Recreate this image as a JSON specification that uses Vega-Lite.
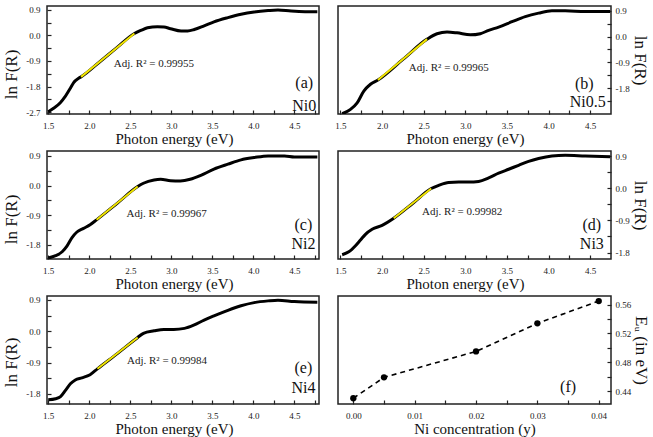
{
  "$schema": "https://vega.github.io/schema/vega-lite/v6.json",
  "background": "white",
  "padding": {"left": 2, "top": 5, "right": 3, "bottom": 3},
  "bounds": "flush",
  "columns": 2,
  "spacing": {"row": 37, "column": 19},
  "datasets": {
    "curves": [
      {"panel": "a", "energy": 1.50, "lnF": -2.69}, {"panel": "a", "energy": 1.565, "lnF": -2.57}, {"panel": "a", "energy": 1.647, "lnF": -2.37}, {"panel": "a", "energy": 1.71, "lnF": -2.14}, {"panel": "a", "energy": 1.77, "lnF": -1.86}, {"panel": "a", "energy": 1.81, "lnF": -1.66}, {"panel": "a", "energy": 1.87, "lnF": -1.51}, {"panel": "a", "energy": 1.90, "lnF": -1.46}, {"panel": "a", "energy": 2.14, "lnF": -0.90}, {"panel": "a", "energy": 2.34, "lnF": -0.42}, {"panel": "a", "energy": 2.55, "lnF": 0.07}, {"panel": "a", "energy": 2.63, "lnF": 0.18}, {"panel": "a", "energy": 2.71, "lnF": 0.27}, {"panel": "a", "energy": 2.83, "lnF": 0.31}, {"panel": "a", "energy": 2.91, "lnF": 0.30}, {"panel": "a", "energy": 2.99, "lnF": 0.24}, {"panel": "a", "energy": 3.12, "lnF": 0.16}, {"panel": "a", "energy": 3.20, "lnF": 0.16}, {"panel": "a", "energy": 3.28, "lnF": 0.21}, {"panel": "a", "energy": 3.40, "lnF": 0.34}, {"panel": "a", "energy": 3.52, "lnF": 0.48}, {"panel": "a", "energy": 3.69, "lnF": 0.63}, {"panel": "a", "energy": 3.85, "lnF": 0.75}, {"panel": "a", "energy": 4.01, "lnF": 0.83}, {"panel": "a", "energy": 4.18, "lnF": 0.88}, {"panel": "a", "energy": 4.30, "lnF": 0.90}, {"panel": "a", "energy": 4.46, "lnF": 0.86}, {"panel": "a", "energy": 4.63, "lnF": 0.84}, {"panel": "a", "energy": 4.78, "lnF": 0.84},
      {"panel": "b", "energy": 1.52, "lnF": -2.70}, {"panel": "b", "energy": 1.62, "lnF": -2.55}, {"panel": "b", "energy": 1.70, "lnF": -2.32}, {"panel": "b", "energy": 1.78, "lnF": -1.91}, {"panel": "b", "energy": 1.86, "lnF": -1.67}, {"panel": "b", "energy": 1.95, "lnF": -1.52}, {"panel": "b", "energy": 2.25, "lnF": -0.80}, {"panel": "b", "energy": 2.54, "lnF": -0.09}, {"panel": "b", "energy": 2.66, "lnF": 0.10}, {"panel": "b", "energy": 2.78, "lnF": 0.16}, {"panel": "b", "energy": 2.90, "lnF": 0.13}, {"panel": "b", "energy": 3.06, "lnF": 0.06}, {"panel": "b", "energy": 3.18, "lnF": 0.10}, {"panel": "b", "energy": 3.28, "lnF": 0.22}, {"panel": "b", "energy": 3.40, "lnF": 0.33}, {"panel": "b", "energy": 3.56, "lnF": 0.52}, {"panel": "b", "energy": 3.72, "lnF": 0.70}, {"panel": "b", "energy": 3.88, "lnF": 0.82}, {"panel": "b", "energy": 4.04, "lnF": 0.90}, {"panel": "b", "energy": 4.20, "lnF": 0.90}, {"panel": "b", "energy": 4.44, "lnF": 0.88}, {"panel": "b", "energy": 4.74, "lnF": 0.88},
      {"panel": "c", "energy": 1.50, "lnF": -2.20}, {"panel": "c", "energy": 1.59, "lnF": -2.13}, {"panel": "c", "energy": 1.67, "lnF": -2.01}, {"panel": "c", "energy": 1.73, "lnF": -1.83}, {"panel": "c", "energy": 1.79, "lnF": -1.58}, {"panel": "c", "energy": 1.85, "lnF": -1.41}, {"panel": "c", "energy": 1.93, "lnF": -1.30}, {"panel": "c", "energy": 2.01, "lnF": -1.19}, {"panel": "c", "energy": 2.09, "lnF": -1.04}, {"panel": "c", "energy": 2.34, "lnF": -0.54}, {"panel": "c", "energy": 2.59, "lnF": -0.03}, {"panel": "c", "energy": 2.66, "lnF": 0.07}, {"panel": "c", "energy": 2.79, "lnF": 0.17}, {"panel": "c", "energy": 2.87, "lnF": 0.19}, {"panel": "c", "energy": 2.99, "lnF": 0.15}, {"panel": "c", "energy": 3.11, "lnF": 0.14}, {"panel": "c", "energy": 3.23, "lnF": 0.19}, {"panel": "c", "energy": 3.36, "lnF": 0.31}, {"panel": "c", "energy": 3.52, "lnF": 0.50}, {"panel": "c", "energy": 3.69, "lnF": 0.65}, {"panel": "c", "energy": 3.85, "lnF": 0.78}, {"panel": "c", "energy": 4.01, "lnF": 0.85}, {"panel": "c", "energy": 4.18, "lnF": 0.90}, {"panel": "c", "energy": 4.38, "lnF": 0.90}, {"panel": "c", "energy": 4.50, "lnF": 0.87}, {"panel": "c", "energy": 4.78, "lnF": 0.87},
      {"panel": "d", "energy": 1.52, "lnF": -1.86}, {"panel": "d", "energy": 1.60, "lnF": -1.78}, {"panel": "d", "energy": 1.68, "lnF": -1.61}, {"panel": "d", "energy": 1.74, "lnF": -1.45}, {"panel": "d", "energy": 1.80, "lnF": -1.29}, {"panel": "d", "energy": 1.88, "lnF": -1.15}, {"panel": "d", "energy": 2.00, "lnF": -1.04}, {"panel": "d", "energy": 2.14, "lnF": -0.84}, {"panel": "d", "energy": 2.37, "lnF": -0.42}, {"panel": "d", "energy": 2.59, "lnF": -0.01}, {"panel": "d", "energy": 2.68, "lnF": 0.08}, {"panel": "d", "energy": 2.80, "lnF": 0.16}, {"panel": "d", "energy": 2.92, "lnF": 0.17}, {"panel": "d", "energy": 3.04, "lnF": 0.17}, {"panel": "d", "energy": 3.16, "lnF": 0.19}, {"panel": "d", "energy": 3.28, "lnF": 0.29}, {"panel": "d", "energy": 3.40, "lnF": 0.42}, {"panel": "d", "energy": 3.52, "lnF": 0.53}, {"panel": "d", "energy": 3.64, "lnF": 0.64}, {"panel": "d", "energy": 3.76, "lnF": 0.75}, {"panel": "d", "energy": 3.88, "lnF": 0.83}, {"panel": "d", "energy": 4.04, "lnF": 0.90}, {"panel": "d", "energy": 4.20, "lnF": 0.92}, {"panel": "d", "energy": 4.44, "lnF": 0.90}, {"panel": "d", "energy": 4.74, "lnF": 0.88},
      {"panel": "e", "energy": 1.50, "lnF": -1.97}, {"panel": "e", "energy": 1.59, "lnF": -1.94}, {"panel": "e", "energy": 1.65, "lnF": -1.88}, {"panel": "e", "energy": 1.71, "lnF": -1.70}, {"panel": "e", "energy": 1.77, "lnF": -1.51}, {"panel": "e", "energy": 1.83, "lnF": -1.40}, {"panel": "e", "energy": 1.91, "lnF": -1.34}, {"panel": "e", "energy": 2.01, "lnF": -1.25}, {"panel": "e", "energy": 2.10, "lnF": -1.08}, {"panel": "e", "energy": 2.35, "lnF": -0.63}, {"panel": "e", "energy": 2.59, "lnF": -0.18}, {"panel": "e", "energy": 2.66, "lnF": -0.06}, {"panel": "e", "energy": 2.79, "lnF": 0.01}, {"panel": "e", "energy": 2.91, "lnF": 0.05}, {"panel": "e", "energy": 3.03, "lnF": 0.05}, {"panel": "e", "energy": 3.16, "lnF": 0.08}, {"panel": "e", "energy": 3.28, "lnF": 0.18}, {"panel": "e", "energy": 3.40, "lnF": 0.32}, {"panel": "e", "energy": 3.52, "lnF": 0.44}, {"panel": "e", "energy": 3.69, "lnF": 0.60}, {"panel": "e", "energy": 3.85, "lnF": 0.73}, {"panel": "e", "energy": 4.01, "lnF": 0.82}, {"panel": "e", "energy": 4.18, "lnF": 0.87}, {"panel": "e", "energy": 4.30, "lnF": 0.89}, {"panel": "e", "energy": 4.50, "lnF": 0.85}, {"panel": "e", "energy": 4.78, "lnF": 0.83}
    ],
    "fits": [
      {"panel": "a", "energy": 1.90, "lnF": -1.46}, {"panel": "a", "energy": 2.55, "lnF": 0.07},
      {"panel": "b", "energy": 1.95, "lnF": -1.52}, {"panel": "b", "energy": 2.54, "lnF": -0.09},
      {"panel": "c", "energy": 2.09, "lnF": -1.04}, {"panel": "c", "energy": 2.59, "lnF": -0.03},
      {"panel": "d", "energy": 2.14, "lnF": -0.84}, {"panel": "d", "energy": 2.59, "lnF": -0.01},
      {"panel": "e", "energy": 2.10, "lnF": -1.08}, {"panel": "e", "energy": 2.59, "lnF": -0.18}
    ],
    "fitnotes": [
      {"panel": "a", "energy": 2.30, "lnF": -0.99, "label": "Adj. R² = 0.99955"},
      {"panel": "b", "energy": 2.32, "lnF": -1.10, "label": "Adj. R² = 0.99965"},
      {"panel": "c", "energy": 2.455, "lnF": -0.87, "label": "Adj. R² = 0.99967"},
      {"panel": "d", "energy": 2.48, "lnF": -0.66, "label": "Adj. R² = 0.99982"},
      {"panel": "e", "energy": 2.46, "lnF": -0.87, "label": "Adj. R² = 0.99984"}
    ],
    "tags": [
      {"panel": "a", "energy": 4.62, "lnF": -1.69, "label": "(a)"}, {"panel": "a", "energy": 4.62, "lnF": -2.49, "label": "Ni0"},
      {"panel": "b", "energy": 4.43, "lnF": -1.66, "label": "(b)"}, {"panel": "b", "energy": 4.47, "lnF": -2.30, "label": "Ni0.5"},
      {"panel": "c", "energy": 4.61, "lnF": -1.20, "label": "(c)"}, {"panel": "c", "energy": 4.61, "lnF": -1.78, "label": "Ni2"},
      {"panel": "d", "energy": 4.52, "lnF": -1.02, "label": "(d)"}, {"panel": "d", "energy": 4.52, "lnF": -1.56, "label": "Ni3"},
      {"panel": "e", "energy": 4.61, "lnF": -1.06, "label": "(e)"}, {"panel": "e", "energy": 4.61, "lnF": -1.63, "label": "Ni4"}
    ],
    "urbach": [
      {"conc": 0.000, "Eu": 0.430},
      {"conc": 0.005, "Eu": 0.459},
      {"conc": 0.020, "Eu": 0.495},
      {"conc": 0.030, "Eu": 0.534},
      {"conc": 0.040, "Eu": 0.565}
    ],
    "ftag": [{"conc": 0.035, "Eu": 0.445, "label": "(f)"}]
  },
  "concat": [
    {
      "width": 272, "height": 108,
      "layer": [
        {"data": {"name": "curves"}, "transform": [{"filter": "datum.panel == 'a'"}],
         "mark": {"type": "line", "color": "black", "strokeWidth": 3, "interpolate": "monotone", "clip": true},
         "encoding": {
           "x": {"field": "energy", "type": "quantitative", "scale": {"domain": [1.485, 4.8], "nice": false, "zero": false},
                 "axis": {"title": "Photon energy (eV)", "titleX": 127, "tickCount": 40, "values": [1.5,1.75,2,2.25,2.5,2.75,3,3.25,3.5,3.75,4,4.25,4.5,4.75], "labelExpr": "abs(datum.value*2 - round(datum.value*2)) < 0.01 ? format(datum.value, '.1f') : ''"}},
           "y": {"field": "lnF", "type": "quantitative", "scale": {"domain": [-2.77, 1.04], "nice": false, "zero": false},
                 "axis": {"title": "ln F(R)", "titleY": 68, "orient": "left", "tickCount": 40, "labelPadding": 11, "values": [-2.7,-2.25,-1.8,-1.35,-0.9,-0.45,0,0.45,0.9], "labelExpr": "abs(datum.value/0.9 - round(datum.value/0.9)) < 0.01 ? replace(format(datum.value, '.1f'), '\u2212', '-') : ''"}}
         }},
        {"data": {"name": "fits"}, "transform": [{"filter": "datum.panel == 'a'"}],
         "mark": {"type": "line", "color": "#f0e400", "strokeWidth": 2},
         "encoding": {"x": {"field": "energy", "type": "quantitative"}, "y": {"field": "lnF", "type": "quantitative"}}},
        {"data": {"name": "fitnotes"}, "transform": [{"filter": "datum.panel == 'a'"}],
         "mark": {"type": "text", "align": "left", "baseline": "middle", "font": "Liberation Serif, DejaVu Serif, serif", "fontSize": 11, "color": "#222"},
         "encoding": {"x": {"field": "energy", "type": "quantitative"}, "y": {"field": "lnF", "type": "quantitative"}, "text": {"field": "label"}}},
        {"data": {"name": "tags"}, "transform": [{"filter": "datum.panel == 'a'"}],
         "mark": {"type": "text", "align": "center", "baseline": "middle", "font": "Liberation Serif, DejaVu Serif, serif", "fontSize": 16, "color": "#111"},
         "encoding": {"x": {"field": "energy", "type": "quantitative"}, "y": {"field": "lnF", "type": "quantitative"}, "text": {"field": "label"}}}
      ]
    },
    {
      "width": 273, "height": 108,
      "layer": [
        {"data": {"name": "curves"}, "transform": [{"filter": "datum.panel == 'b'"}],
         "mark": {"type": "line", "color": "black", "strokeWidth": 3, "interpolate": "monotone", "clip": true},
         "encoding": {
           "x": {"field": "energy", "type": "quantitative", "scale": {"domain": [1.47, 4.75], "nice": false, "zero": false},
                 "axis": {"title": "Photon energy (eV)", "titleX": 127, "tickCount": 40, "values": [1.5,1.75,2,2.25,2.5,2.75,3,3.25,3.5,3.75,4,4.25,4.5], "labelExpr": "abs(datum.value*2 - round(datum.value*2)) < 0.01 ? format(datum.value, '.1f') : ''"}},
           "y": {"field": "lnF", "type": "quantitative", "scale": {"domain": [-2.71, 1.07], "nice": false, "zero": false},
                 "axis": {"title": "ln F(R)", "orient": "right", "tickCount": 40, "labelPadding": 8, "titlePadding": 1, "values": [-2.25,-1.8,-1.35,-0.9,-0.45,0,0.45,0.9], "labelExpr": "abs(datum.value/0.9 - round(datum.value/0.9)) < 0.01 ? replace(format(datum.value, '.1f'), '\u2212', '-') : ''"}}
         }},
        {"data": {"name": "fits"}, "transform": [{"filter": "datum.panel == 'b'"}],
         "mark": {"type": "line", "color": "#f0e400", "strokeWidth": 2},
         "encoding": {"x": {"field": "energy", "type": "quantitative"}, "y": {"field": "lnF", "type": "quantitative"}}},
        {"data": {"name": "fitnotes"}, "transform": [{"filter": "datum.panel == 'b'"}],
         "mark": {"type": "text", "align": "left", "baseline": "middle", "font": "Liberation Serif, DejaVu Serif, serif", "fontSize": 11, "color": "#222"},
         "encoding": {"x": {"field": "energy", "type": "quantitative"}, "y": {"field": "lnF", "type": "quantitative"}, "text": {"field": "label"}}},
        {"data": {"name": "tags"}, "transform": [{"filter": "datum.panel == 'b'"}],
         "mark": {"type": "text", "align": "center", "baseline": "middle", "font": "Liberation Serif, DejaVu Serif, serif", "fontSize": 16, "color": "#111"},
         "encoding": {"x": {"field": "energy", "type": "quantitative"}, "y": {"field": "lnF", "type": "quantitative"}, "text": {"field": "label"}}}
      ]
    },
    {
      "width": 272, "height": 108,
      "layer": [
        {"data": {"name": "curves"}, "transform": [{"filter": "datum.panel == 'c'"}],
         "mark": {"type": "line", "color": "black", "strokeWidth": 3, "interpolate": "monotone", "clip": true},
         "encoding": {
           "x": {"field": "energy", "type": "quantitative", "scale": {"domain": [1.485, 4.8], "nice": false, "zero": false},
                 "axis": {"title": "Photon energy (eV)", "titleX": 127, "tickCount": 40, "values": [1.5,1.75,2,2.25,2.5,2.75,3,3.25,3.5,3.75,4,4.25,4.5,4.75], "labelExpr": "abs(datum.value*2 - round(datum.value*2)) < 0.01 ? format(datum.value, '.1f') : ''"}},
           "y": {"field": "lnF", "type": "quantitative", "scale": {"domain": [-2.23, 1.05], "nice": false, "zero": false},
                 "axis": {"title": "ln F(R)", "titleY": 68, "orient": "left", "tickCount": 40, "labelPadding": 11, "values": [-1.8,-1.35,-0.9,-0.45,0,0.45,0.9], "labelExpr": "abs(datum.value/0.9 - round(datum.value/0.9)) < 0.01 ? replace(format(datum.value, '.1f'), '\u2212', '-') : ''"}}
         }},
        {"data": {"name": "fits"}, "transform": [{"filter": "datum.panel == 'c'"}],
         "mark": {"type": "line", "color": "#f0e400", "strokeWidth": 2},
         "encoding": {"x": {"field": "energy", "type": "quantitative"}, "y": {"field": "lnF", "type": "quantitative"}}},
        {"data": {"name": "fitnotes"}, "transform": [{"filter": "datum.panel == 'c'"}],
         "mark": {"type": "text", "align": "left", "baseline": "middle", "font": "Liberation Serif, DejaVu Serif, serif", "fontSize": 11, "color": "#222"},
         "encoding": {"x": {"field": "energy", "type": "quantitative"}, "y": {"field": "lnF", "type": "quantitative"}, "text": {"field": "label"}}},
        {"data": {"name": "tags"}, "transform": [{"filter": "datum.panel == 'c'"}],
         "mark": {"type": "text", "align": "center", "baseline": "middle", "font": "Liberation Serif, DejaVu Serif, serif", "fontSize": 16, "color": "#111"},
         "encoding": {"x": {"field": "energy", "type": "quantitative"}, "y": {"field": "lnF", "type": "quantitative"}, "text": {"field": "label"}}}
      ]
    },
    {
      "width": 273, "height": 108,
      "layer": [
        {"data": {"name": "curves"}, "transform": [{"filter": "datum.panel == 'd'"}],
         "mark": {"type": "line", "color": "black", "strokeWidth": 3, "interpolate": "monotone", "clip": true},
         "encoding": {
           "x": {"field": "energy", "type": "quantitative", "scale": {"domain": [1.47, 4.75], "nice": false, "zero": false},
                 "axis": {"title": "Photon energy (eV)", "titleX": 127, "tickCount": 40, "values": [1.5,1.75,2,2.25,2.5,2.75,3,3.25,3.5,3.75,4,4.25,4.5], "labelExpr": "abs(datum.value*2 - round(datum.value*2)) < 0.01 ? format(datum.value, '.1f') : ''"}},
           "y": {"field": "lnF", "type": "quantitative", "scale": {"domain": [-1.98, 1.04], "nice": false, "zero": false},
                 "axis": {"title": "ln F(R)", "orient": "right", "tickCount": 40, "labelPadding": 8, "titlePadding": 1, "values": [-1.8,-1.35,-0.9,-0.45,0,0.45,0.9], "labelExpr": "abs(datum.value/0.9 - round(datum.value/0.9)) < 0.01 ? replace(format(datum.value, '.1f'), '\u2212', '-') : ''"}}
         }},
        {"data": {"name": "fits"}, "transform": [{"filter": "datum.panel == 'd'"}],
         "mark": {"type": "line", "color": "#f0e400", "strokeWidth": 2},
         "encoding": {"x": {"field": "energy", "type": "quantitative"}, "y": {"field": "lnF", "type": "quantitative"}}},
        {"data": {"name": "fitnotes"}, "transform": [{"filter": "datum.panel == 'd'"}],
         "mark": {"type": "text", "align": "left", "baseline": "middle", "font": "Liberation Serif, DejaVu Serif, serif", "fontSize": 11, "color": "#222"},
         "encoding": {"x": {"field": "energy", "type": "quantitative"}, "y": {"field": "lnF", "type": "quantitative"}, "text": {"field": "label"}}},
        {"data": {"name": "tags"}, "transform": [{"filter": "datum.panel == 'd'"}],
         "mark": {"type": "text", "align": "center", "baseline": "middle", "font": "Liberation Serif, DejaVu Serif, serif", "fontSize": 16, "color": "#111"},
         "encoding": {"x": {"field": "energy", "type": "quantitative"}, "y": {"field": "lnF", "type": "quantitative"}, "text": {"field": "label"}}}
      ]
    },
    {
      "width": 272, "height": 108,
      "layer": [
        {"data": {"name": "curves"}, "transform": [{"filter": "datum.panel == 'e'"}],
         "mark": {"type": "line", "color": "black", "strokeWidth": 3, "interpolate": "monotone", "clip": true},
         "encoding": {
           "x": {"field": "energy", "type": "quantitative", "scale": {"domain": [1.485, 4.8], "nice": false, "zero": false},
                 "axis": {"title": "Photon energy (eV)", "titleX": 127, "tickCount": 40, "values": [1.5,1.75,2,2.25,2.5,2.75,3,3.25,3.5,3.75,4,4.25,4.5,4.75], "labelExpr": "abs(datum.value*2 - round(datum.value*2)) < 0.01 ? format(datum.value, '.1f') : ''"}},
           "y": {"field": "lnF", "type": "quantitative", "scale": {"domain": [-2.09, 1.01], "nice": false, "zero": false},
                 "axis": {"title": "ln F(R)", "titleY": 66, "orient": "left", "tickCount": 40, "labelPadding": 11, "values": [-1.8,-1.35,-0.9,-0.45,0,0.45,0.9], "labelExpr": "abs(datum.value/0.9 - round(datum.value/0.9)) < 0.01 ? replace(format(datum.value, '.1f'), '\u2212', '-') : ''"}}
         }},
        {"data": {"name": "fits"}, "transform": [{"filter": "datum.panel == 'e'"}],
         "mark": {"type": "line", "color": "#f0e400", "strokeWidth": 2},
         "encoding": {"x": {"field": "energy", "type": "quantitative"}, "y": {"field": "lnF", "type": "quantitative"}}},
        {"data": {"name": "fitnotes"}, "transform": [{"filter": "datum.panel == 'e'"}],
         "mark": {"type": "text", "align": "left", "baseline": "middle", "font": "Liberation Serif, DejaVu Serif, serif", "fontSize": 11, "color": "#222"},
         "encoding": {"x": {"field": "energy", "type": "quantitative"}, "y": {"field": "lnF", "type": "quantitative"}, "text": {"field": "label"}}},
        {"data": {"name": "tags"}, "transform": [{"filter": "datum.panel == 'e'"}],
         "mark": {"type": "text", "align": "center", "baseline": "middle", "font": "Liberation Serif, DejaVu Serif, serif", "fontSize": 16, "color": "#111"},
         "encoding": {"x": {"field": "energy", "type": "quantitative"}, "y": {"field": "lnF", "type": "quantitative"}, "text": {"field": "label"}}}
      ]
    },
    {
      "width": 273, "height": 108,
      "layer": [
        {"data": {"name": "urbach"},
         "mark": {"type": "line", "color": "black", "strokeWidth": 1.6, "strokeDash": [5, 4]},
         "encoding": {
           "x": {"field": "conc", "type": "quantitative", "scale": {"domain": [-0.0025, 0.042], "nice": false, "zero": false},
                 "axis": {"title": "Ni concentration (y)", "tickCount": 40, "values": [0,0.005,0.01,0.015,0.02,0.025,0.03,0.035,0.04], "labelExpr": "abs(datum.value/0.01 - round(datum.value/0.01)) < 0.01 ? format(datum.value, '.2f') : ''"}},
           "y": {"field": "Eu", "type": "quantitative", "scale": {"domain": [0.422, 0.572], "nice": false, "zero": false},
                 "axis": {"title": "Eᵤ (in eV)", "orient": "right", "tickCount": 40, "labelPadding": 8, "titlePadding": 1, "values": [0.44,0.46,0.48,0.5,0.52,0.54,0.56], "labelExpr": "abs(datum.value/0.04 - round(datum.value/0.04)) < 0.01 ? format(datum.value, '.2f') : ''"}}
         }},
        {"data": {"name": "urbach"},
         "mark": {"type": "point", "filled": true, "color": "black", "size": 40, "opacity": 1},
         "encoding": {"x": {"field": "conc", "type": "quantitative"}, "y": {"field": "Eu", "type": "quantitative"}}},
        {"data": {"name": "ftag"},
         "mark": {"type": "text", "align": "center", "baseline": "middle", "font": "Liberation Serif, DejaVu Serif, serif", "fontSize": 16, "color": "#111"},
         "encoding": {"x": {"field": "conc", "type": "quantitative"}, "y": {"field": "Eu", "type": "quantitative"}, "text": {"field": "label"}}}
      ]
    }
  ],
  "config": {
    "view": {"stroke": "#222", "strokeWidth": 1.5},
    "axis": {
      "grid": false,
      "domain": false,
      "tickSize": -4,
      "tickColor": "#222",
      "tickWidth": 1.2,
      "labelFont": "Liberation Serif, DejaVu Serif, serif",
      "labelFontSize": 9,
      "labelColor": "#222",
      "labelOverlap": false,
      "labelFlush": false,
      "titleFont": "Liberation Serif, DejaVu Serif, serif",
      "titleFontWeight": "normal",
      "titleColor": "#111"
    },
    "axisX": {"titlePadding": 1, "titleFontSize": 15, "labelPadding": 11},
    "axisY": {"titlePadding": 5, "titleFontSize": 17}
  }
}
